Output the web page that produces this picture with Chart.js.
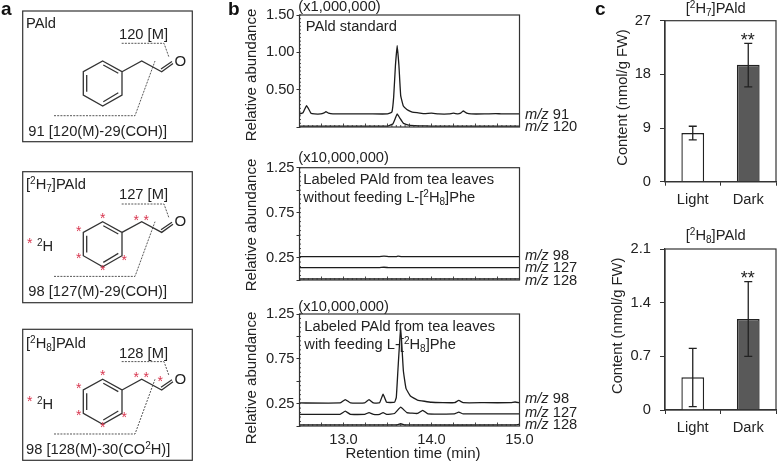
<!DOCTYPE html>
<html>
<head>
<meta charset="utf-8">
<script src="https://cdn.jsdelivr.net/npm/chart.js@4"></script>
<style>
  html, body { margin: 0; padding: 0; background: #fff; }
  #page { position: relative; width: 778px; height: 462px; overflow: hidden; }
  canvas { position: absolute; }
  svg { position: absolute; left: 0; top: 0; }
  text { font-family: "Liberation Sans", Arial, sans-serif; font-size: 14.7px; fill: #222; }
  .bold { font-weight: bold; font-size: 19px; fill: #111; }
  .star { fill: #d8364f; font-size: 14px; }
  .big { font-size: 15px; }
  .sm { font-size: 10px; }
  .frame { fill: none; stroke: #333; stroke-width: 1.2; }
  .bond { fill: none; stroke: #333; stroke-width: 1.3; }
  .dash { fill: none; stroke: #444; stroke-width: 0.9; stroke-dasharray: 2 1.2; }
</style>
</head>
<body>
<div id="page">
  <canvas id="std" width="300" height="145" style="left:240px;top:0"></canvas>
  <canvas id="noFeed" width="300" height="150" style="left:240px;top:145px"></canvas>
  <canvas id="feed" width="300" height="167" style="left:240px;top:295px"></canvas>
  <canvas id="barH7" width="168" height="225" style="left:610px;top:0"></canvas>
  <canvas id="barH8" width="168" height="237" style="left:610px;top:225px"></canvas>

  <svg width="778" height="462" xmlns="http://www.w3.org/2000/svg">
    <defs>
      <g id="mol">
        <path class="bond" d="M102.7 61 L122 71.7 L122 95 L102.7 106 L83.3 95 L83.3 71.7 Z"/>
        <path class="bond" d="M86.7 75 L86.7 91.7 M103.3 65 L118.3 73.3 M103.3 101.7 L118.3 92.7"/>
        <path class="bond" d="M122 71.7 L141.7 61 L161.7 71.7 L173 63.5 M161 69 L172 61.5"/>
        <path class="dash" d="M121.7 43.3 L164 43.3 L169 57.3"/>
        <path class="dash" d="M54 115.7 L135 115.7 L155 61"/>
        <text x="174.5" y="65.5" class="big">O</text>
      </g>
      <g id="stars">
        <text class="star" x="100" y="62">*</text>
        <text class="star" x="76" y="75">*</text>
        <text class="star" x="76" y="102">*</text>
        <text class="star" x="100" y="114">*</text>
        <text class="star" x="121.5" y="104">*</text>
        <text class="star" x="133.5" y="64">*</text>
        <text class="star" x="143.5" y="64">*</text>
      </g>
    </defs>

    <!-- panel a -->
    <text class="bold" x="1" y="15">a</text>
    <rect class="frame" x="22.7" y="11" width="169.6" height="130.7"/>
    <use href="#mol"/>
    <text x="26" y="28.3">PAld</text>
    <text x="119" y="39.3">120 [M]</text>
    <text x="28.3" y="135.7">91 [120(M)-29(COH)]</text>

    <rect class="frame" x="22.7" y="171.7" width="169.6" height="131"/>
    <use href="#mol" y="160.7"/>
    <use href="#stars" y="160.7"/>
    <text x="26" y="189.3">[<tspan class="sm" dy="-5">2</tspan><tspan dy="5">H</tspan><tspan class="sm" dy="3">7</tspan><tspan dy="-3">]PAld</tspan></text>
    <text x="119" y="199.3">127 [M]</text>
    <text class="star" x="27" y="248">*</text>
    <text x="37" y="250.7"><tspan class="sm" dy="-5">2</tspan><tspan dy="5">H</tspan></text>
    <text x="28.3" y="295.7">98 [127(M)-29(COH)]</text>

    <rect class="frame" x="22.7" y="329.3" width="169.6" height="131"/>
    <use href="#mol" y="318.3"/>
    <use href="#stars" y="318.3"/>
    <text class="star" x="157.5" y="386">*</text>
    <text x="26" y="348.3">[<tspan class="sm" dy="-5">2</tspan><tspan dy="5">H</tspan><tspan class="sm" dy="3">8</tspan><tspan dy="-3">]PAld</tspan></text>
    <text x="119" y="358.3">128 [M]</text>
    <text class="star" x="27" y="406">*</text>
    <text x="37" y="409"><tspan class="sm" dy="-5">2</tspan><tspan dy="5">H</tspan></text>
    <text x="26" y="454">98 [128(M)-30(CO<tspan class="sm" dy="-5">2</tspan><tspan dy="5">H)]</tspan></text>

    <!-- panel b -->
    <text class="bold" x="228" y="15">b</text>
    <text x="298.3" y="10.5">(x1,000,000)</text>
    <text x="305.7" y="31">PAld standard</text>
    <text x="298.3" y="162.3">(x10,000,000)</text>
    <text x="303.3" y="184">Labeled PAld from tea leaves</text>
    <text x="303.3" y="201.7">without feeding L-[<tspan class="sm" dy="-5">2</tspan><tspan dy="5">H</tspan><tspan class="sm" dy="3">8</tspan><tspan dy="-3">]Phe</tspan></text>
    <text x="298.3" y="310.7">(x10,000,000)</text>
    <text x="304.3" y="331.3">Labeled PAld from tea leaves</text>
    <text x="304.3" y="349">with feeding L-[<tspan class="sm" dy="-5">2</tspan><tspan dy="5">H</tspan><tspan class="sm" dy="3">8</tspan><tspan dy="-3">]Phe</tspan></text>

    <text class="big" text-anchor="middle" transform="translate(255.7 75) rotate(-90)">Relative abundance</text>
    <text class="big" text-anchor="middle" transform="translate(255.7 225) rotate(-90)">Relative abundance</text>
    <text class="big" text-anchor="middle" transform="translate(255.7 378) rotate(-90)">Relative abundance</text>
    <text class="big" text-anchor="middle" x="413" y="457.7">Retention time (min)</text>

    <text x="525" y="119"><tspan font-style="italic">m/z</tspan> 91</text>
    <text x="525" y="131"><tspan font-style="italic">m/z</tspan> 120</text>
    <text x="525" y="260"><tspan font-style="italic">m/z</tspan> 98</text>
    <text x="525" y="272.3"><tspan font-style="italic">m/z</tspan> 127</text>
    <text x="525" y="285"><tspan font-style="italic">m/z</tspan> 128</text>
    <text x="525" y="403"><tspan font-style="italic">m/z</tspan> 98</text>
    <text x="525" y="416.7"><tspan font-style="italic">m/z</tspan> 127</text>
    <text x="525" y="429.3"><tspan font-style="italic">m/z</tspan> 128</text>

    <!-- panel c -->
    <text class="bold" x="595" y="15">c</text>
    <text text-anchor="middle" x="715.7" y="12.7">[<tspan class="sm" dy="-5">2</tspan><tspan dy="5">H</tspan><tspan class="sm" dy="3">7</tspan><tspan dy="-3">]PAld</tspan></text>
    <text text-anchor="middle" x="715.7" y="240">[<tspan class="sm" dy="-5">2</tspan><tspan dy="5">H</tspan><tspan class="sm" dy="3">8</tspan><tspan dy="-3">]PAld</tspan></text>
    <text text-anchor="middle" transform="translate(626.7 97.5) rotate(-90)">Content (nmol/g FW)</text>
    <text text-anchor="middle" transform="translate(622.3 325.8) rotate(-90)">Content (nmol/g FW)</text>
    <text text-anchor="middle" x="747.7" y="46" style="font-size:18px">**</text>
    <text text-anchor="middle" x="747.7" y="284" style="font-size:18px">**</text>
  </svg>
</div>

<script>
// PAld standard
const rt91 = [12.5, 12.54, 12.56, 12.58, 12.6, 12.63, 12.67, 12.74, 12.78, 12.8, 12.83, 12.88, 13.0, 13.3, 13.5, 13.55, 13.57, 13.59, 13.61, 13.63, 13.65, 13.68, 13.72, 13.76, 13.8, 13.85, 13.92, 14.0, 14.08, 14.2, 14.25, 14.3, 14.33, 14.36, 14.4, 14.45, 14.6, 14.73, 14.8, 15.0];
const mz91 = [0.175, 0.19, 0.24, 0.285, 0.25, 0.185, 0.175, 0.175, 0.19, 0.205, 0.185, 0.175, 0.175, 0.175, 0.175, 0.2, 0.4, 0.82, 1.09, 0.82, 0.42, 0.28, 0.235, 0.21, 0.195, 0.19, 0.18, 0.185, 0.175, 0.175, 0.185, 0.175, 0.185, 0.215, 0.185, 0.175, 0.175, 0.18, 0.175, 0.175];
const rt120 = [12.5, 13.0, 13.5, 13.56, 13.59, 13.61, 13.64, 13.68, 13.74, 13.85, 14.0, 15.0];
const mz120 = [0.012, 0.012, 0.012, 0.04, 0.12, 0.175, 0.12, 0.05, 0.025, 0.016, 0.012, 0.012];

// without feeding
const rtFlat = [12.5, 13.4, 13.46, 13.52, 13.6, 13.62, 13.66, 15.0];
const noFeed98 = [0.26, 0.26, 0.265, 0.26, 0.26, 0.265, 0.26, 0.26];
const noFeed127 = [0.137, 0.137, 0.142, 0.137, 0.137, 0.137, 0.137, 0.137];
const noFeed128 = [0.012, 0.012, 0.012, 0.012, 0.012, 0.012, 0.012, 0.012];

// with feeding
const rtFeed98 = [12.5, 12.96, 13.02, 13.08, 13.24, 13.29, 13.34, 13.41, 13.45, 13.49, 13.58, 13.6, 13.62, 13.65, 13.68, 13.71, 13.76, 13.84, 14.0, 14.26, 14.31, 14.36, 14.6, 14.9, 14.95, 15.0];
const feed98 = [0.257, 0.257, 0.295, 0.257, 0.257, 0.295, 0.257, 0.26, 0.355, 0.265, 0.265, 0.32, 0.65, 1.09, 0.62, 0.42, 0.335, 0.29, 0.265, 0.26, 0.285, 0.26, 0.26, 0.26, 0.268, 0.258];
const rtFeed127 = [12.5, 12.96, 13.02, 13.08, 13.24, 13.29, 13.34, 13.41, 13.45, 13.49, 13.58, 13.65, 13.72, 13.84, 13.9, 13.96, 14.26, 14.31, 14.36, 15.0];
const feed127 = [0.13, 0.13, 0.165, 0.13, 0.13, 0.15, 0.13, 0.13, 0.15, 0.13, 0.14, 0.21, 0.15, 0.14, 0.175, 0.135, 0.135, 0.155, 0.135, 0.135];
const rtFeed128 = [12.5, 13.6, 13.65, 13.7, 14.95, 15.0];
const feed128 = [0.012, 0.012, 0.025, 0.012, 0.012, 0.02];

// contents
const barLabels = ["Light", "Dark"];
const h7Values = [8.16, 19.6];
const h7Low = [7.0, 15.9];
const h7High = [9.3, 23.2];
const h8Values = [0.427, 1.187];
const h8Low = [0.043, 0.7];
const h8High = [0.805, 1.674];

// tick labels
const rtTicks = [13, 14, 15];

const FONT = "Liberation Sans";
const AXIS = "#333";
const TRACE = "#1c1c1c";

function zip(xs, ys) {
  return xs.map((x, i) => ({ x: x, y: ys[i] }));
}

// box round the plot, plus the small ticks along the bottom and left axes
const frameAndTicks = {
  id: "frameAndTicks",
  afterDraw(chart, args, opts) {
    const c = chart.ctx;
    const a = chart.chartArea;
    c.save();
    c.strokeStyle = AXIS;
    c.lineWidth = 1.2;
    c.strokeRect(a.left, a.top, a.right - a.left, a.bottom - a.top);
    c.lineWidth = 0.9;
    if (opts.xStep) {
      const sx = chart.scales.x;
      for (let i = 0; sx.min + i * opts.xStep <= sx.max + 1e-6; i++) {
        const px = sx.getPixelForValue(sx.min + i * opts.xStep);
        const len = i % 5 === 0 ? 3.5 : 2;
        c.beginPath();
        c.moveTo(px, a.bottom);
        c.lineTo(px, a.bottom - len);
        c.stroke();
      }
    }
    if (opts.yStep) {
      const sy = chart.scales.y;
      for (let i = 0; sy.min + i * opts.yStep <= sy.max + 1e-6; i++) {
        const py = sy.getPixelForValue(sy.min + i * opts.yStep);
        c.beginPath();
        c.moveTo(a.left, py);
        c.lineTo(a.left + 1.5, py);
        c.stroke();
      }
    }
    c.restore();
  }
};

const errorBars = {
  id: "errorBars",
  afterDatasetsDraw(chart, args, opts) {
    if (!opts.low) return;
    const c = chart.ctx;
    const sy = chart.scales.y;
    c.save();
    c.strokeStyle = "#222";
    c.lineWidth = 1.3;
    opts.low.forEach((low, i) => {
      const px = chart.scales.x.getPixelForValue(i);
      const y1 = sy.getPixelForValue(low);
      const y2 = sy.getPixelForValue(opts.high[i]);
      c.beginPath();
      c.moveTo(px, y1);
      c.lineTo(px, y2);
      c.moveTo(px - 4, y1);
      c.lineTo(px + 4, y1);
      c.moveTo(px - 4, y2);
      c.lineTo(px + 4, y2);
      c.stroke();
    });
    c.restore();
  }
};

function traceChart(id, traces, o) {
  new Chart(document.getElementById(id), {
    type: "line",
    data: {
      datasets: traces.map((t) => ({
        data: t,
        borderColor: TRACE,
        borderWidth: 1.3,
        pointRadius: 0,
        tension: 0.1,
        clip: false
      }))
    },
    options: {
      responsive: false,
      animation: false,
      parsing: false,
      layout: { padding: { top: o.top, right: 20.5, bottom: 0, left: 0 } },
      plugins: {
        legend: { display: false },
        tooltip: { enabled: false },
        frameAndTicks: { xStep: 0.05, yStep: o.yMinor }
      },
      scales: {
        x: {
          type: "linear",
          min: 12.5,
          max: 15,
          afterBuildTicks: (s) => { s.ticks = rtTicks.map((v) => ({ value: v })); },
          afterFit: (s) => { s.height = o.bottom; },
          border: { display: false },
          grid: { display: false, drawTicks: false },
          ticks: {
            display: o.showX,
            autoSkip: false,
            maxRotation: 0,
            padding: 5,
            color: "#222",
            font: { family: FONT, size: 14.7 },
            callback: (v) => v.toFixed(1)
          }
        },
        y: {
          min: 0,
          max: o.yMax,
          afterFit: (s) => { s.width = 59.5; },
          border: { display: false },
          grid: { drawOnChartArea: false, tickLength: 3, tickColor: AXIS, tickWidth: 1 },
          ticks: {
            stepSize: o.yStep,
            padding: 2,
            color: "#222",
            font: { family: FONT, size: 14.7 },
            callback: (v) => (o.yLabels.includes(v) ? v.toFixed(2) : "")
          }
        }
      }
    },
    plugins: [frameAndTicks]
  });
}

function barChart(id, values, low, high, o) {
  new Chart(document.getElementById(id), {
    type: "bar",
    data: {
      labels: barLabels,
      datasets: [{
        data: values,
        backgroundColor: ["#ffffff", "#595959"],
        borderColor: "#222",
        borderWidth: 1.4,
        barPercentage: 0.41,
        categoryPercentage: 1
      }]
    },
    options: {
      responsive: false,
      animation: false,
      layout: { padding: { top: o.top, right: 2, bottom: 0, left: 0 } },
      plugins: {
        legend: { display: false },
        tooltip: { enabled: false },
        errorBars: { low: low, high: high }
      },
      scales: {
        x: {
          afterFit: (s) => { s.height = o.bottom; },
          border: { color: AXIS, width: 1.2 },
          grid: { drawOnChartArea: false, tickLength: 4, tickColor: AXIS },
          ticks: { padding: 5, color: "#222", font: { family: FONT, size: 14.7 } }
        },
        y: {
          min: 0,
          max: o.yMax,
          afterFit: (s) => { s.width = 55; },
          border: { color: AXIS, width: 1.2 },
          grid: { drawOnChartArea: false, tickLength: 5, tickColor: AXIS },
          ticks: {
            stepSize: o.yStep,
            padding: 9,
            color: "#222",
            font: { family: FONT, size: 14.7 }
          }
        }
      }
    },
    plugins: [frameAndTicks, errorBars]
  });
}

traceChart("std", [zip(rt91, mz91), zip(rt120, mz120)],
  { top: 15, bottom: 18, yMax: 1.5, yStep: 0.5, yMinor: 0.05, yLabels: [0.5, 1, 1.5], showX: false });
traceChart("noFeed", [zip(rtFlat, noFeed98), zip(rtFlat, noFeed127), zip(rtFlat, noFeed128)],
  { top: 22.7, bottom: 15, yMax: 1.25, yStep: 0.25, yMinor: 0.05, yLabels: [0.25, 0.75, 1.25], showX: false });
traceChart("feed", [zip(rtFeed98, feed98), zip(rtFeed127, feed127), zip(rtFeed128, feed128)],
  { top: 19, bottom: 36, yMax: 1.25, yStep: 0.25, yMinor: 0.05, yLabels: [0.25, 0.75, 1.25], showX: true });

barChart("barH7", h7Values, h7Low, h7High, { top: 20.7, bottom: 43.3, yMax: 27, yStep: 9 });
barChart("barH8", h8Values, h8Low, h8High, { top: 24, bottom: 52, yMax: 2.1, yStep: 0.7 });
</script>
</body>
</html>
